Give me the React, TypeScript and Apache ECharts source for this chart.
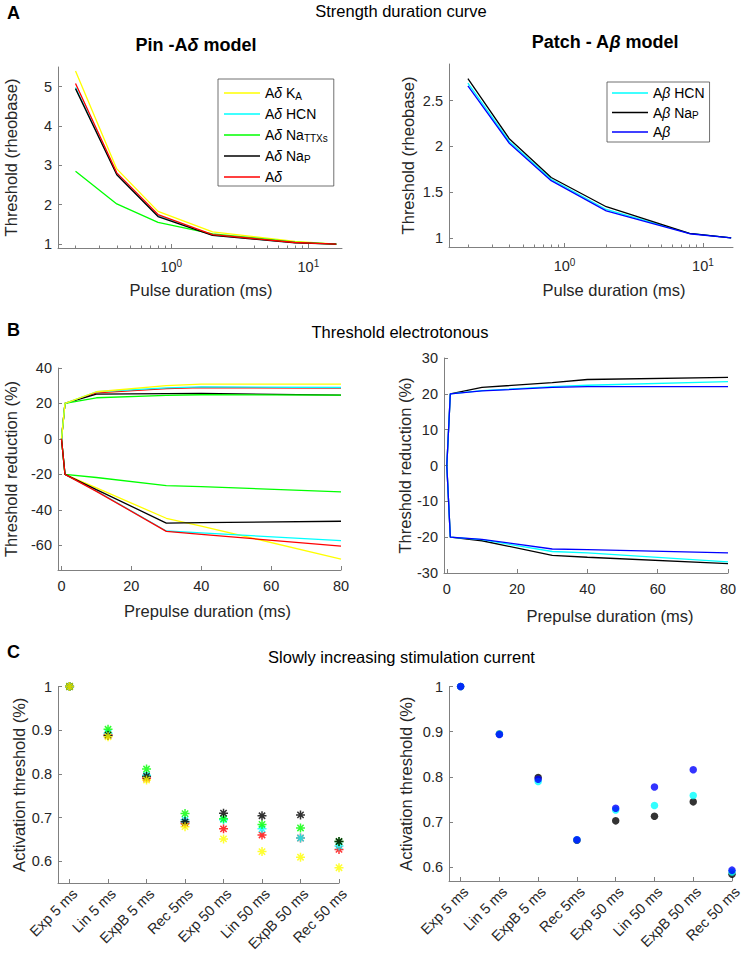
import React, { useEffect, useRef } from "react";
import * as echarts from "echarts";

// ---------- data ----------
const durations = [0.2, 0.4, 0.8, 2, 8, 16];
const pinKA = [5.4, 2.91, 1.83, 1.31, 1.07, 1.0];
const pinHCN = [4.98, 2.78, 1.72, 1.23, 1.04, 1.0];
const pinTTXs = [2.85, 2.02, 1.55, 1.26, 1.05, 1.0];
const pinNaP = [4.95, 2.76, 1.7, 1.22, 1.03, 1.0];
const pinAd = [5.08, 2.81, 1.75, 1.24, 1.04, 1.0];
const patchHCN = [2.69, 2.05, 1.64, 1.31, 1.05, 1.0];
const patchNaP = [2.74, 2.08, 1.66, 1.34, 1.05, 1.0];
const patchAb = [2.66, 2.03, 1.625, 1.295, 1.045, 1.0];

const prepulse = [0, 1, 10, 30, 40, 80];
const teKAup = [0, 20, 26.6, 30.1, 30.9, 30.9];
const teHCNup = [0, 20, 26.6, 28.8, 29.4, 29.0];
const teTTXup = [0, 20, 23.2, 24.5, 24.9, 24.7];
const teNaPup = [0, 20, 25.2, 25.5, 25.6, 24.7];
const teAdup = [0, 20, 26.0, 28.4, 29.0, 28.6];
const teKAdown = [0, -20, -27.7, -44.8, -49.2, -67.8];
const teHCNdown = [0, -20, -29.4, -52.0, -53.1, -57.4];
const teTTXdown = [0, -20, -21.8, -26.4, -26.9, -29.9];
const teNaPdown = [0, -20, -28.6, -47.5, -47.3, -46.5];
const teAddown = [0, -20, -29.6, -52.2, -53.9, -60.5];

const tbNaPup = [0, 20, 21.8, 23.1, 24.0, 24.6];
const tbHCNup = [0, 20, 20.9, 22.0, 22.4, 23.4];
const tbAbup = [0, 20, 20.8, 21.8, 22.0, 22.0];
const tbNaPdown = [0, -20, -21.0, -25.1, -25.6, -27.4];
const tbHCNdown = [0, -20, -20.7, -24.0, -24.4, -26.9];
const tbAbdown = [0, -20, -20.6, -23.3, -23.5, -24.4];

const ramps = ["Exp 5 ms", "Lin 5 ms", "ExpB 5 ms", "Rec 5ms", "Exp 50 ms", "Lin 50 ms", "ExpB 50 ms", "Rec 50 ms"];
const rampKA = [1, 0.885, 0.786, 0.679, 0.651, 0.622, 0.609, 0.585];
const rampHCN = [1, 0.893, 0.797, 0.695, 0.695, 0.674, 0.653, 0.635];
const rampTTXs = [1, 0.902, 0.811, 0.709, 0.697, 0.684, 0.676, 0.645];
const rampNaP = [1, 0.888, 0.794, 0.69, 0.71, 0.704, 0.706, 0.645];
const rampAd = [1, 0.889, 0.79, 0.686, 0.674, 0.66, 0.653, 0.627];
const rampBHCN = [1, 0.895, 0.79, 0.661, 0.727, 0.737, 0.759, 0.59];
const rampBNaP = [1, 0.895, 0.799, 0.66, 0.703, 0.713, 0.745, 0.585];
const rampBAb = [1, 0.894, 0.795, 0.661, 0.731, 0.778, 0.816, 0.594];

// tick values
const decadeTicks = [1, 10];
const minorLogTicks = [0.2, 0.3, 0.4, 0.5, 0.6, 0.7, 0.8, 0.9, 2, 3, 4, 5, 6, 7, 8, 9];
const pinYTicks = [1, 2, 3, 4, 5];
const patchYTicks = [1, 1.5, 2, 2.5];
const teXTicks = [0, 20, 40, 60, 80];
const teLeftYTicks = [-60, -40, -20, 0, 20, 40];
const teRightYTicks = [-30, -20, -10, 0, 10, 20, 30];
const rampXTicks = [1, 2, 3, 4, 5, 6, 7, 8];
const rampYTicks = [0.6, 0.7, 0.8, 0.9, 1];

// ---------- styles ----------
const FONT = "'Liberation Sans', Arial, Helvetica, sans-serif";
const AX = "#808080";
const TXT = "#262626";
const YEL = "#ffff00";
const CYA = "#00ffff";
const GRN = "#00ff00";
const BLK = "#000000";
const RED = "#ff0000";
const BLU = "#0000ff";
const STAR = "path://M5,0L5,10M0,5L10,5M1.5,1.5L8.5,8.5M1.5,8.5L8.5,1.5";

const legendLabels: Record<string, string> = {
  aKA: "A{it|δ} K{sub|A}",
  aHCN: "A{it|δ} HCN",
  aTTX: "A{it|δ} Na{sub|TTXs}",
  aNaP: "A{it|δ} Na{sub|P}",
  aAd: "A{it|δ}",
  bHCN: "A{it|β} HCN",
  bNaP: "A{it|β} Na{sub|P}",
  bAb: "A{it|β}",
};

const nameStyle = { fontSize: 16.5, color: TXT, fontFamily: FONT };
const labelBase = { color: TXT, fontSize: 14.5, fontFamily: FONT };

function yAx(gi: number, min: number, max: number, ticks: number[], name: string, gap: number) {
  return {
    type: "value",
    gridIndex: gi,
    min,
    max,
    name,
    nameLocation: "middle",
    nameGap: gap,
    nameTextStyle: nameStyle,
    axisLine: { show: true, onZero: false, lineStyle: { color: AX, width: 1 } },
    axisTick: { show: true, inside: true, length: 4, customValues: ticks, lineStyle: { color: AX } },
    axisLabel: { ...labelBase, customValues: ticks, margin: 6 },
    splitLine: { show: false },
  };
}

function logAx(gi: number, min: number, max: number, name: string, gap: number, shift: number) {
  return {
    type: "log",
    logBase: 10,
    gridIndex: gi,
    position: "bottom",
    min,
    max,
    name,
    nameLocation: "middle",
    nameGap: gap,
    nameTextStyle: { ...nameStyle, padding: [0, 0, 0, shift * 2] },
    axisLine: { show: true, onZero: false, lineStyle: { color: AX, width: 1 } },
    axisTick: { show: true, inside: true, length: 4, customValues: decadeTicks, lineStyle: { color: AX } },
    axisLabel: {
      ...labelBase,
      customValues: decadeTicks,
      margin: 10,
      lineHeight: 18,
      formatter: (v: number) => "10{sup|" + Math.round(Math.log10(v)) + "}",
      rich: { sup: { fontSize: 10, lineHeight: 6, verticalAlign: "top", color: TXT, fontFamily: FONT } },
    },
    splitLine: { show: false },
  };
}

function logMinorAx(gi: number, min: number, max: number) {
  return {
    type: "log",
    logBase: 10,
    gridIndex: gi,
    position: "bottom",
    min,
    max,
    axisLine: { show: false, onZero: false },
    axisTick: { show: true, inside: true, length: 2.5, customValues: minorLogTicks, lineStyle: { color: AX } },
    axisLabel: { show: false },
    splitLine: { show: false },
  };
}

function valXAx(gi: number, min: number, max: number, ticks: number[], name: string, gap: number, shift: number) {
  return {
    type: "value",
    gridIndex: gi,
    position: "bottom",
    min,
    max,
    name,
    nameLocation: "middle",
    nameGap: gap,
    nameTextStyle: { ...nameStyle, padding: [0, 0, 0, shift * 2] },
    axisLine: { show: true, onZero: false, lineStyle: { color: AX, width: 1 } },
    axisTick: { show: true, inside: true, length: 4, customValues: ticks, lineStyle: { color: AX } },
    axisLabel: { ...labelBase, customValues: ticks, margin: 8 },
    splitLine: { show: false },
  };
}

function catXAx(gi: number) {
  return {
    type: "value",
    gridIndex: gi,
    position: "bottom",
    min: 0.7,
    max: 8,
    axisLine: { show: true, onZero: false, lineStyle: { color: AX, width: 1 } },
    axisTick: { show: true, inside: true, length: 4, customValues: rampXTicks, lineStyle: { color: AX } },
    axisLabel: {
      ...labelBase,
      customValues: rampXTicks,
      rotate: 45,
      margin: 3,
      verticalAlign: "top",
      formatter: (v: number) => ramps[Math.round(v) - 1] || "",
    },
    splitLine: { show: false },
  };
}

function line(name: string, xs: number[], ys: number[], color: string, xi: number, yi: number) {
  return {
    type: "line",
    name,
    xAxisIndex: xi,
    yAxisIndex: yi,
    data: xs.map((x, i) => [x, ys[i]]),
    symbol: "none",
    showSymbol: false,
    lineStyle: { color, width: 1.3 },
    itemStyle: { color },
    silent: true,
    z: 2,
  };
}

function stars(name: string, ys: number[], color: string, xi: number, yi: number) {
  return {
    type: "scatter",
    name,
    xAxisIndex: xi,
    yAxisIndex: yi,
    data: ys.map((y, i) => [i + 1, y]),
    symbol: STAR,
    symbolSize: 9,
    itemStyle: { color: "rgba(0,0,0,0)", borderColor: color, borderWidth: 1.5 },
    clip: false,
    silent: true,
  };
}

function dots(name: string, ys: number[], color: string, xi: number, yi: number) {
  return {
    type: "scatter",
    name,
    xAxisIndex: xi,
    yAxisIndex: yi,
    data: ys.map((y, i) => [i + 1, y]),
    symbol: "circle",
    symbolSize: 7.5,
    itemStyle: { color },
    clip: false,
    silent: true,
  };
}

function legend(names: string[], left: number, top: number, padding: number[], gap: number) {
  return {
    data: names,
    orient: "vertical",
    left,
    top,
    padding,
    itemGap: gap,
    icon: "rect",
    itemWidth: 36,
    itemHeight: 1.4,
    selectedMode: false,
    backgroundColor: "#ffffff",
    borderColor: "#4d4d4d",
    borderWidth: 0.8,
    borderRadius: 0,
    formatter: (n: string) => legendLabels[n] || n,
    textStyle: {
      color: "#000",
      fontSize: 14,
      fontFamily: FONT,
      lineHeight: 16,
      rich: {
        sub: { fontSize: 10, lineHeight: 4, verticalAlign: "bottom", color: "#000", fontFamily: FONT },
        it: { fontStyle: "italic", fontSize: 14, color: "#000", fontFamily: FONT },
      },
    },
  };
}

function title(text: string, left: number, top: number, size: number, bold: boolean, center: boolean) {
  return {
    text,
    left,
    top,
    padding: 0,
    textAlign: center ? "center" : "left",
    textStyle: {
      fontSize: size,
      fontWeight: bold ? "bold" : "normal",
      color: "#000",
      fontFamily: FONT,
      rich: { it: { fontStyle: "italic", fontSize: size, fontWeight: bold ? "bold" : "normal", fontFamily: FONT } },
    },
  };
}

export default function App() {
  const ref = useRef<HTMLDivElement>(null);
  useEffect(() => {
    if (!ref.current) return;
    const chart = echarts.init(ref.current, null, { renderer: "svg", width: 745, height: 961 });
    const option: any = {
      animation: false,
      backgroundColor: "#ffffff",
      title: [
        title("A", 7, 4, 18, true, false),
        title("Strength duration curve", 401, 2, 16.5, false, true),
        title("Pin -A{it|δ} model", 196, 35.5, 18, true, true),
        title("Patch - A{it|β} model", 605, 33, 18, true, true),
        title("B", 7, 321, 18, true, false),
        title("Threshold electrotonous", 400, 323.5, 16.5, false, true),
        title("C", 7, 643, 18, true, false),
        title("Slowly increasing stimulation current", 401.5, 648.5, 16.5, false, true),
      ],
      legend: [
        legend(["aKA", "aHCN", "aTTX", "aNaP", "aAd"], 218, 79, [6, 6, 1, 6], 5),
        legend(["bHCN", "bNaP", "bAb"], 607, 82, [3, 5, 2, 5], 3.5),
      ],
      grid: [
        { left: 58, top: 67, width: 284, height: 181, outerBoundsMode: "none" },
        { left: 449, top: 64, width: 284, height: 183, outerBoundsMode: "none" },
        { left: 58, top: 368, width: 283, height: 202, outerBoundsMode: "none" },
        { left: 444, top: 358, width: 284, height: 215, outerBoundsMode: "none" },
        { left: 58, top: 686.5, width: 281, height: 196.5, outerBoundsMode: "none" },
        { left: 449, top: 686.5, width: 283, height: 194.5, outerBoundsMode: "none" },
      ],
      xAxis: [
        logAx(0, 0.149, 17.6, "Pulse duration (ms)", 33, 1),
        logMinorAx(0, 0.149, 17.6),
        logAx(1, 0.146, 16.5, "Pulse duration (ms)", 34, 23),
        logMinorAx(1, 0.146, 16.5),
        valXAx(2, -1, 80, teXTicks, "Prepulse duration (ms)", 32, 8),
        valXAx(3, -0.8, 80, teXTicks, "Prepulse duration (ms)", 34, 24),
        catXAx(4),
        catXAx(5),
      ],
      yAxis: [
        yAx(0, 0.9, 5.5, pinYTicks, "Threshold (rheobase)", 39),
        yAx(1, 0.9, 2.9, patchYTicks, "Threshold (rheobase)", 33),
        yAx(2, -74, 40, teLeftYTicks, "Threshold reduction (%)", 39),
        yAx(3, -30, 30, teRightYTicks, "Threshold reduction (%)", 30),
        yAx(4, 0.55, 1, rampYTicks, "Activation threshold (%)", 31),
        yAx(5, 0.57, 1, rampYTicks, "Activation threshold (%)", 35),
      ],
      series: [
        line("aKA", durations, pinKA, YEL, 0, 0),
        line("aHCN", durations, pinHCN, CYA, 0, 0),
        line("aTTX", durations, pinTTXs, GRN, 0, 0),
        line("aNaP", durations, pinNaP, BLK, 0, 0),
        line("aAd", durations, pinAd, RED, 0, 0),

        line("bHCN", durations, patchHCN, CYA, 2, 1),
        line("bNaP", durations, patchNaP, BLK, 2, 1),
        line("bAb", durations, patchAb, BLU, 2, 1),

        line("teAdup", prepulse, teAdup, RED, 4, 2),
        line("teNaPup", prepulse, teNaPup, BLK, 4, 2),
        line("teTTXup", prepulse, teTTXup, GRN, 4, 2),
        line("teHCNup", prepulse, teHCNup, CYA, 4, 2),
        line("teKAup", prepulse, teKAup, YEL, 4, 2),
        line("teKAdown", prepulse, teKAdown, YEL, 4, 2),
        line("teHCNdown", prepulse, teHCNdown, CYA, 4, 2),
        line("teTTXdown", prepulse, teTTXdown, GRN, 4, 2),
        line("teNaPdown", prepulse, teNaPdown, BLK, 4, 2),
        line("teAddown", prepulse, teAddown, RED, 4, 2),

        line("tbNaPup", prepulse, tbNaPup, BLK, 5, 3),
        line("tbHCNup", prepulse, tbHCNup, CYA, 5, 3),
        line("tbAbup", prepulse, tbAbup, BLU, 5, 3),
        line("tbNaPdown", prepulse, tbNaPdown, BLK, 5, 3),
        line("tbHCNdown", prepulse, tbHCNdown, CYA, 5, 3),
        line("tbAbdown", prepulse, tbAbdown, BLU, 5, 3),

        stars("rAd", rampAd, RED, 6, 4),
        stars("rHCN", rampHCN, CYA, 6, 4),
        stars("rTTX", rampTTXs, GRN, 6, 4),
        stars("rNaP", rampNaP, BLK, 6, 4),
        stars("rKA", rampKA, YEL, 6, 4),

        dots("rbNaP", rampBNaP, BLK, 7, 5),
        dots("rbHCN", rampBHCN, CYA, 7, 5),
        dots("rbAb", rampBAb, BLU, 7, 5),
      ],
    };
    chart.setOption(option);
    return () => chart.dispose();
  }, []);
  return (
    <div
      ref={ref}
      style={{ position: "absolute", left: 0, top: 0, width: 745, height: 961, background: "#fff" }}
    />
  );
}
